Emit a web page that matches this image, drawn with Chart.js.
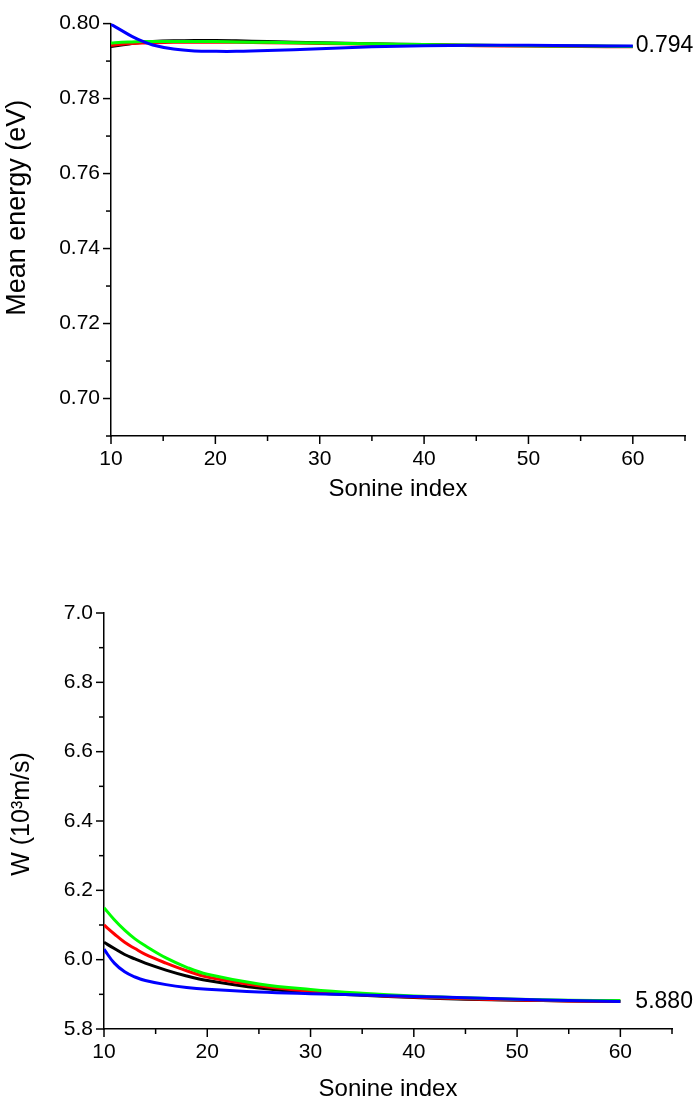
<!DOCTYPE html>
<html>
<head>
<meta charset="utf-8">
<script src="https://cdn.jsdelivr.net/npm/chart.js@4.4.0/dist/chart.umd.min.js"></script>
<style>
  html, body { margin: 0; padding: 0; background: #fff; }
  .panel { position: absolute; left: 0; width: 699px; }
  #energyWrap { top: 0; height: 520px; }
  #velocityWrap { top: 570px; height: 534px; }
</style>
</head>
<body>
<div class="panel" id="energyWrap"><canvas id="energyChart"></canvas></div>
<div class="panel" id="velocityWrap"><canvas id="velocityChart"></canvas></div>
<script>
// top panel: mean energy vs Sonine index
const energyX = [10, 11, 12, 13, 14, 16, 18, 20, 22, 25, 30, 35, 40, 45, 50, 55, 60];
const energyBlue  = [0.7998, 0.7982, 0.7966, 0.7953, 0.7943, 0.7932, 0.7927, 0.7926, 0.7926, 0.7928, 0.7933, 0.7938, 0.7941, 0.7942, 0.7942, 0.7941, 0.7940];
const energyGreen = [0.7948, 0.7950, 0.7951, 0.7952, 0.7952, 0.7952, 0.7952, 0.7952, 0.7951, 0.7950, 0.7948, 0.7946, 0.7944, 0.7942, 0.7941, 0.7940, 0.7939];
const energyRed   = [0.7942, 0.7945, 0.7947, 0.7948, 0.7949, 0.7950, 0.7950, 0.7950, 0.7950, 0.7949, 0.7947, 0.7945, 0.7943, 0.7941, 0.7940, 0.7939, 0.7938];
const energyBlack = [0.7939, 0.7943, 0.7947, 0.7950, 0.7952, 0.7954, 0.7955, 0.7955, 0.7954, 0.7952, 0.7949, 0.7946, 0.7944, 0.7942, 0.7941, 0.7940, 0.7939];
const energyLimit = 0.794;

// bottom panel: W vs Sonine index
const velocityX = [10, 11, 12, 13, 14, 16, 18, 20, 25, 30, 35, 40, 45, 50, 55, 60];
const velocityBlue  = [6.030, 5.990, 5.965, 5.950, 5.940, 5.928, 5.920, 5.915, 5.907, 5.902, 5.898, 5.894, 5.890, 5.886, 5.882, 5.879];
const velocityGreen = [6.150, 6.115, 6.085, 6.060, 6.040, 6.005, 5.978, 5.958, 5.930, 5.914, 5.903, 5.895, 5.890, 5.886, 5.883, 5.882];
const velocityRed   = [6.100, 6.074, 6.050, 6.032, 6.015, 5.990, 5.968, 5.950, 5.925, 5.909, 5.899, 5.892, 5.887, 5.884, 5.881, 5.880];
const velocityBlack = [6.050, 6.032, 6.015, 6.002, 5.990, 5.970, 5.953, 5.940, 5.918, 5.905, 5.897, 5.891, 5.886, 5.883, 5.881, 5.879];
const velocityLimit = 5.880;

const FONT = "'Liberation Sans', Arial, sans-serif";

const toPoints = (xs, ys) => xs.map((x, i) => ({ x, y: ys[i] }));

// ticks drawn by hand so minor ones can be shorter
const tickMarks = {
  id: "tickMarks",
  afterDraw(chart) {
    const ctx = chart.ctx;
    ctx.save();
    ctx.strokeStyle = "#000";
    ctx.lineWidth = 1.5;
    for (const scale of [chart.scales.x, chart.scales.y]) {
      const major = scale.options.majorEvery;
      scale.ticks.forEach((t) => {
        const isMajor = Math.abs(Math.round(t.value / major) * major - t.value) < 1e-6;
        const len = isMajor ? 8 : 5;
        const p = scale.getPixelForValue(t.value);
        ctx.beginPath();
        if (scale.isHorizontal()) {
          ctx.moveTo(p, scale.top);
          ctx.lineTo(p, scale.top + len);
        } else {
          ctx.moveTo(scale.right, p);
          ctx.lineTo(scale.right - len, p);
        }
        ctx.stroke();
      });
    }
    ctx.restore();
  },
};

const yTitle = {
  id: "yTitle",
  afterDraw(chart, args, opts) {
    const ctx = chart.ctx;
    const area = chart.chartArea;
    ctx.save();
    ctx.translate(opts.x, (area.top + area.bottom) / 2 + opts.dy);
    ctx.rotate(-Math.PI / 2);
    ctx.font = opts.size + "px " + FONT;
    ctx.fillStyle = "#000";
    ctx.textAlign = "center";
    ctx.textBaseline = "middle";
    ctx.fillText(opts.text, 0, 0);
    ctx.restore();
  },
};

const endLabel = {
  id: "endLabel",
  afterDraw(chart, args, opts) {
    const ctx = chart.ctx;
    const px = chart.scales.x.getPixelForValue(opts.x) + opts.gap;
    const py = chart.scales.y.getPixelForValue(opts.value);
    ctx.save();
    ctx.font = "23px " + FONT;
    ctx.fillStyle = "#000";
    ctx.textAlign = "left";
    ctx.textBaseline = "middle";
    ctx.fillText(opts.text, px, py);
    ctx.restore();
  },
};

function makeChart(canvas, cfg) {
  const line = (data, color) => ({
    data: toPoints(cfg.xs, data),
    borderColor: color,
    borderWidth: 3,
    pointRadius: 0,
    fill: false,
    tension: 0.4,
  });
  return new Chart(canvas, {
    type: "line",
    data: {
      // first dataset ends up on top
      datasets: [
        line(cfg.blue, "#0000ff"),
        line(cfg.green, "#00ff00"),
        line(cfg.red, "#ff0000"),
        line(cfg.black, "#000000"),
      ],
    },
    plugins: [tickMarks, yTitle, endLabel],
    options: {
      responsive: true,
      maintainAspectRatio: false,
      animation: false,
      layout: { padding: cfg.padding },
      plugins: {
        legend: { display: false },
        tooltip: { enabled: false },
        yTitle: { text: cfg.yText, x: cfg.yTitleX, dy: cfg.yTitleDy, size: cfg.yTitleSize },
        endLabel: { x: 60, value: cfg.limit, text: cfg.limitText, gap: cfg.labelGap },
      },
      scales: {
        x: {
          type: "linear",
          min: 10,
          max: 65,
          majorEvery: 10,
          afterFit: (s) => { s.height = cfg.xHeight; },
          grid: { display: false, drawTicks: false },
          border: { display: true, color: "#000", width: 1.5 },
          ticks: {
            stepSize: 5,
            padding: 11,
            color: "#000",
            font: { family: FONT, size: 21 },
            maxRotation: 0,
            autoSkip: false,
            callback: (v) => (v % 10 === 0 && v <= 60 ? String(v) : ""),
          },
          title: {
            display: true,
            text: "Sonine index",
            color: "#000",
            font: { family: FONT, size: 24 },
            padding: { top: 0, bottom: cfg.xTitlePad },
          },
        },
        y: {
          type: "linear",
          min: cfg.yMin,
          max: cfg.yMax,
          majorEvery: cfg.yMajor,
          afterFit: (s) => { s.width = cfg.yWidth; },
          grid: { display: false, drawTicks: false },
          border: { display: true, color: "#000", width: 1.5 },
          ticks: {
            stepSize: cfg.yStep,
            padding: 11,
            color: "#000",
            font: { family: FONT, size: 21 },
            autoSkip: false,
            callback: (v) => {
              const n = Math.round(v / cfg.yStep);
              return n % 2 === 0 && v >= cfg.yFirstLabel - 1e-9 ? v.toFixed(cfg.yDigits) : "";
            },
          },
        },
      },
    },
  });
}

makeChart(document.getElementById("energyChart"), {
  xs: energyX,
  blue: energyBlue, green: energyGreen, red: energyRed, black: energyBlack,
  yMin: 0.69, yMax: 0.80, yStep: 0.01, yMajor: 0.02, yDigits: 2, yFirstLabel: 0.70,
  padding: { top: 17, right: 14, left: 0, bottom: 0 },
  yWidth: 111, xHeight: 84, xTitlePad: 16,
  yText: "Mean energy (eV)", yTitleX: 18, yTitleDy: -22, yTitleSize: 27,
  limit: energyLimit, limitText: "0.794", labelGap: 3,
});

makeChart(document.getElementById("velocityChart"), {
  xs: velocityX,
  blue: velocityBlue, green: velocityGreen, red: velocityRed, black: velocityBlack,
  yMin: 5.8, yMax: 7.0, yStep: 0.1, yMajor: 0.2, yDigits: 1, yFirstLabel: 5.8,
  padding: { top: 43, right: 27, left: 0, bottom: 0 },
  yWidth: 104, xHeight: 75, xTitlePad: 0,
  yText: "W (10³m/s)", yTitleX: 22, yTitleDy: -7, yTitleSize: 25,
  limit: velocityLimit, limitText: "5.880", labelGap: 15,
});
</script>
</body>
</html>
